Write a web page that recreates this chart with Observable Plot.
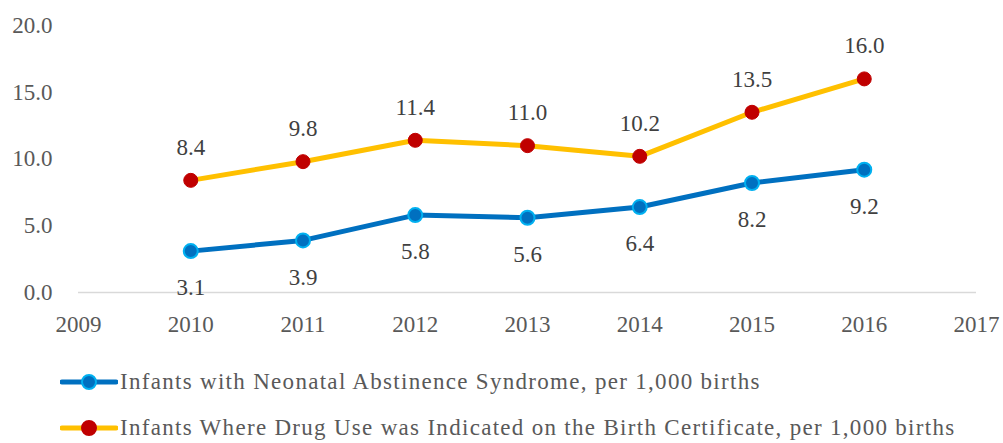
<!DOCTYPE html>
<html><head><meta charset="utf-8">
<script src="https://cdn.jsdelivr.net/npm/d3@7"></script>
<script src="https://cdn.jsdelivr.net/npm/@observablehq/plot@0.6"></script>
<style>
body{margin:0;background:#fff;font-family:"Liberation Serif",serif;}
#legend{margin-left:60px;margin-top:14px;font-size:23px;color:#595959;letter-spacing:1.3px;white-space:nowrap;}
.row{display:flex;align-items:center;height:46px;}
.row svg{margin-right:2px;flex:none;}
</style></head><body>
<div id="chart"></div>
<div id="legend"></div>
<script>
const years = [2010, 2011, 2012, 2013, 2014, 2015, 2016];
const nasRate = [3.1, 3.9, 5.8, 5.6, 6.4, 8.2, 9.2];
const drugRate = [8.4, 9.8, 11.4, 11.0, 10.2, 13.5, 16.0];
const seriesNames = [
  "Infants with Neonatal Abstinence Syndrome, per 1,000 births",
  "Infants Where Drug Use was Indicated on the Birth Certificate, per 1,000 births"
];
const xTicks = [2009, 2010, 2011, 2012, 2013, 2014, 2015, 2016, 2017];
const yTicks = [0, 5, 10, 15, 20];

const nas = years.map((y, i) => ({year: y, value: nasRate[i]}));
const drug = years.map((y, i) => ({year: y, value: drugRate[i]}));

const chart = Plot.plot({
  width: 1003,
  height: 345,
  marginTop: 25,
  marginBottom: 53,
  marginLeft: 78,
  marginRight: 27,
  style: {fontFamily: "Liberation Serif, serif", fontSize: "23px", color: "#595959", background: "#fff"},
  x: {domain: [2009, 2017], ticks: xTicks, tickFormat: d => String(d), tickSize: 0, tickPadding: 23, label: null},
  y: {domain: [0, 20], ticks: yTicks, tickFormat: d => d.toFixed(1), tickSize: 0, tickPadding: 26, label: null},
  marks: [
    Plot.ruleY([0], {stroke: "#d9d9d9", strokeWidth: 1.5}),
    Plot.line(drug, {x: "year", y: "value", stroke: "#FFC000", strokeWidth: 5}),
    Plot.line(nas, {x: "year", y: "value", stroke: "#0070C0", strokeWidth: 5}),
    Plot.dot(drug, {x: "year", y: "value", r: 7, fill: "#C00000", stroke: "#C00000", strokeWidth: 1}),
    Plot.dot(nas, {x: "year", y: "value", r: 7, fill: "#0070C0", stroke: "#00B0F0", strokeWidth: 2}),
    Plot.text(drug, {x: "year", y: "value", text: d => d.value.toFixed(1), dy: -33, fill: "#404040", fontSize: 23}),
    Plot.text(nas, {x: "year", y: "value", text: d => d.value.toFixed(1), dy: 37, fill: "#404040", fontSize: 23})
  ]
});
document.getElementById("chart").appendChild(chart);

const legendStyles = [
  {line: "#0070C0", fill: "#0070C0", stroke: "#00B0F0"},
  {line: "#FFC000", fill: "#C00000", stroke: "#C00000"}
];
const legend = document.getElementById("legend");
seriesNames.forEach((name, i) => {
  const row = document.createElement("div");
  row.className = "row";
  const s = legendStyles[i];
  row.innerHTML = `<svg width="58" height="20"><line x1="2" x2="56" y1="10" y2="10" stroke="${s.line}" stroke-width="5" stroke-linecap="round"/><circle cx="29" cy="10" r="7" fill="${s.fill}" stroke="${s.stroke}" stroke-width="2"/></svg><span>${name}</span>`;
  legend.appendChild(row);
});
</script>
</body></html>
